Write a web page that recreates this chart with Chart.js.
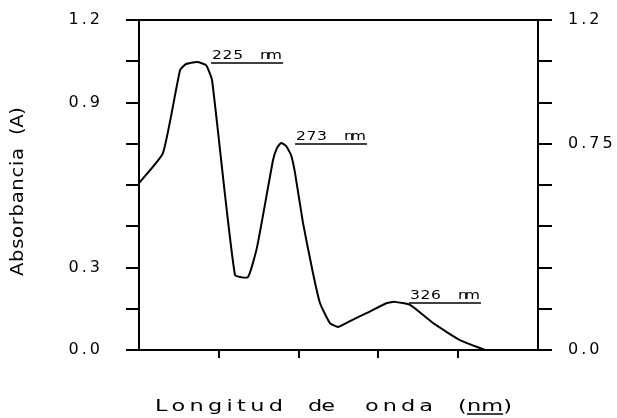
<!DOCTYPE html>
<html>
<head>
<meta charset="utf-8">
<script src="https://cdn.jsdelivr.net/npm/chart.js@4/dist/chart.umd.min.js"></script>
<style>
  html, body { margin: 0; padding: 0; background: #fff; }
</style>
</head>
<body>
<canvas id="chart" width="617" height="418"></canvas>
<script>
const longitudes = [200, 212, 220.6, 223.6, 229.1, 233.6, 236.6, 248.1, 254.6, 259.2, 267.2, 269.2, 271.2, 273.7, 276.2, 278.2, 282.2, 287.2, 290.7, 295.7, 299.8, 306.8, 314.3, 324.3, 328.3, 335.9, 347.4, 360.9, 373.4]
const absorbancias = [0.607, 0.716, 1.018, 1.040, 1.047, 1.036, 0.982, 0.273, 0.265, 0.375, 0.691, 0.735, 0.753, 0.742, 0.709, 0.644, 0.462, 0.280, 0.171, 0.098, 0.084, 0.109, 0.135, 0.171, 0.175, 0.164, 0.098, 0.036, 0.0]

const ticksIzq = [1.2, 0.9, 0.3, 0.0]
const etiquetasIzq = ['1.2', '0.9', '0.3', '0.0']
const ticksDer = [1.2, 0.75, 0.0]
const etiquetasDer = ['1.2', '0.75', '0.0']

const picos = [225, 273, 326]
const etiquetasPicos = ['225 nm', '273 nm', '326 nm']

const tituloX = 'Longitud de onda (nm)'
const tituloY = 'Absorbancia (A)'

const negro = '#000'
const fuente = "'DejaVu Sans', sans-serif"

function etiquetaTick(valor, ticks, etiquetas) {
    let i = ticks.findIndex(t => Math.abs(t - valor) < 1e-6)
    return i >= 0 ? etiquetas[i] : ''
}

// palabra ensanchada (letra de plotter) que ocupa el ancho dado
function palabra(ctx, texto, x, y, ancho, escala) {
    ctx.letterSpacing = '0px'
    let natural = ctx.measureText(texto).width
    let esp = texto.length > 1 ? (ancho / escala - natural) / (texto.length - 1) : 0
    ctx.save()
    ctx.translate(x, y)
    ctx.scale(escala, 1)
    ctx.letterSpacing = esp + 'px'
    ctx.fillText(texto, 0, 0)
    ctx.restore()
    return esp
}

function subrayar(ctx, x1, x2, y) {
    ctx.lineWidth = 1.5
    ctx.beginPath()
    ctx.moveTo(x1, y)
    ctx.lineTo(x2, y)
    ctx.stroke()
}

const espaciadoTicks = {
    id: 'espaciadoTicks',
    beforeDraw(chart) {
        chart.ctx.letterSpacing = '3px'
    }
}

const textos = {
    id: 'textos',
    afterDraw(chart) {
        const ctx = chart.ctx
        const sx = chart.scales.x
        const sy = chart.scales.y
        ctx.save()
        ctx.fillStyle = negro
        ctx.strokeStyle = negro
        ctx.textAlign = 'left'
        ctx.textBaseline = 'alphabetic'

        // titulo eje x, palabra por palabra, con "nm" subrayado
        ctx.font = '16px ' + fuente
        const base = 411
        const palabrasX = tituloX.split(' ')
        const tramosX = [[155, 128], [308, 27], [365, 68], [458, 54]]
        palabrasX.forEach((p, i) => {
            let [x, w] = tramosX[i]
            let esp = palabra(ctx, p, x, base, w, 1.4)
            if (p.includes('nm')) {
                ctx.letterSpacing = esp + 'px'
                let ini = x + ctx.measureText(p.slice(0, p.indexOf('nm'))).width * 1.4
                let fin = ini + (ctx.measureText('nm').width - esp) * 1.4
                subrayar(ctx, ini, fin, base + 3)
            }
        })

        // titulo eje y
        ctx.save()
        ctx.translate(23, 276)
        ctx.rotate(-Math.PI / 2)
        ctx.font = '17px ' + fuente
        const palabrasY = tituloY.split(' ')
        palabra(ctx, palabrasY[0], 0, 0, 128, 1.15)
        palabra(ctx, palabrasY[1], 141, 0, 28, 1.15)
        ctx.restore()

        // etiquetas de picos
        ctx.font = '12px ' + fuente
        picos.forEach((nm, k) => {
            let mejor = -1
            longitudes.forEach((l, i) => {
                if (Math.abs(l - nm) < 10 && (mejor < 0 || absorbancias[i] > absorbancias[mejor])) mejor = i
            })
            let px = sx.getPixelForValue(longitudes[mejor])
            let py = sy.getPixelForValue(absorbancias[mejor])
            let tx = px + 15
            let [num, uni] = etiquetasPicos[k].split(' ')
            palabra(ctx, num, tx, py - 3, 31, 1.3)
            palabra(ctx, uni, tx + 48, py - 3, 22, 1.3)
            subrayar(ctx, tx - 1, tx + 71, py + 1)
        })
        ctx.restore()
    }
}

const puntos = longitudes.map((l, i) => ({ x: l, y: absorbancias[i] }))

const ctx = document.getElementById('chart').getContext('2d')
const grafica = new Chart(ctx, {
    type: 'scatter',
    data: {
        datasets: [{
            data: puntos,
            showLine: true,
            borderColor: negro,
            borderWidth: 2,
            pointRadius: 0,
            tension: 0.15,
            xAxisID: 'x',
            yAxisID: 'y'
        }]
    },
    options: {
        responsive: false,
        animation: false,
        devicePixelRatio: 1,
        layout: { padding: 0 },
        plugins: { legend: { display: false }, tooltip: { enabled: false } },
        scales: {
            x: {
                type: 'linear', position: 'bottom', min: 200, max: 400,
                ticks: { stepSize: 40, callback: () => '' },
                grid: {
                    drawOnChartArea: false, tickLength: 8, lineWidth: 2,
                    color: c => (c.tick && (c.tick.value === 200 || c.tick.value === 400)) ? 'rgba(0,0,0,0)' : negro
                },
                border: { color: negro, width: 2 },
                afterFit: s => { s.height = 68; s.paddingLeft = 0; s.paddingRight = 0 }
            },
            x2: {
                type: 'linear', position: 'top', min: 200, max: 400,
                ticks: { display: false },
                grid: { display: false },
                border: { color: negro, width: 2 },
                afterFit: s => { s.height = 20; s.paddingLeft = 0; s.paddingRight = 0 }
            },
            y: {
                type: 'linear', position: 'left', min: 0, max: 1.2,
                ticks: {
                    stepSize: 0.15, padding: 23, color: negro,
                    font: { family: fuente, size: 16 },
                    callback: v => etiquetaTick(v, ticksIzq, etiquetasIzq)
                },
                grid: { drawOnChartArea: false, tickLength: 13, lineWidth: 2, color: negro },
                border: { color: negro, width: 2 },
                afterFit: s => { s.width = 139; s.paddingTop = 0; s.paddingBottom = 0 }
            },
            y2: {
                type: 'linear', position: 'right', min: 0, max: 1.2,
                ticks: {
                    stepSize: 0.15, padding: 16, color: negro,
                    font: { family: fuente, size: 16 },
                    callback: v => etiquetaTick(v, ticksDer, etiquetasDer)
                },
                grid: { drawOnChartArea: false, tickLength: 14, lineWidth: 2, color: negro },
                border: { color: negro, width: 2 },
                afterFit: s => { s.width = 79; s.paddingTop = 0; s.paddingBottom = 0 }
            }
        }
    },
    plugins: [espaciadoTicks, textos]
})
</script>
</body>
</html>
